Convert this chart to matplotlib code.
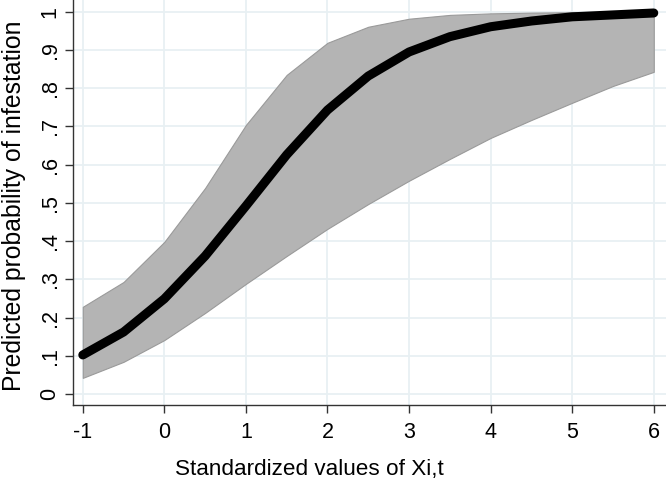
import matplotlib
matplotlib.use("Agg")
import matplotlib.pyplot as plt

x_vals = [-1, -0.5, 0, 0.5, 1, 1.5, 2, 2.5, 3, 3.5, 4, 4.5, 5, 5.5, 6]
prob = [0.102, 0.162, 0.249, 0.361, 0.492, 0.626, 0.743, 0.832, 0.895, 0.935,
        0.961, 0.976, 0.987, 0.992, 0.997]
upper = [0.228, 0.293, 0.398, 0.539, 0.704, 0.835, 0.919, 0.961, 0.982, 0.992,
         0.996, 0.998, 0.999, 0.999, 0.999]
lower = [0.042, 0.084, 0.141, 0.212, 0.288, 0.361, 0.432, 0.497, 0.558, 0.615,
         0.670, 0.717, 0.762, 0.806, 0.843]
x_ticks = [-1, 0, 1, 2, 3, 4, 5, 6]
y_ticks = [0, 0.1, 0.2, 0.3, 0.4, 0.5, 0.6, 0.7, 0.8, 0.9, 1]
y_ticklabels = ["0", ".1", ".2", ".3", ".4", ".5", ".6", ".7", ".8", ".9", "1"]

plt.rcParams['font.family'] = ['Liberation Sans', 'DejaVu Sans']

fig = plt.figure(figsize=(6.66, 4.82), dpi=100)
ax = fig.add_axes([73/666, 77/482, 1 - 73/666, 1 - 77/482])

ax.fill_between(x_vals, lower, upper, facecolor='#b4b4b4', edgecolor='#9a9a9a',
                linewidth=0.8, zorder=2)
ax.plot(x_vals, prob, color='black', linewidth=6.5, solid_capstyle='round',
        solid_joinstyle='round', zorder=3)

ax.set_xlim(-1.12, 6.15)
ax.set_ylim(-0.029, 1.031)
ax.set_xticks(x_ticks)
ax.set_xticklabels([str(t) for t in x_ticks], fontsize=15.5)
ax.set_yticks(y_ticks)
ax.set_yticklabels(y_ticklabels, fontsize=15.5, rotation=90, va='center')
ax.grid(True, color='#e8f0f3', linewidth=1.3, zorder=0)
ax.set_axisbelow(True)

for s in ['top', 'right']:
    ax.spines[s].set_visible(False)
for s in ['left', 'bottom']:
    ax.spines[s].set_color('#333333')
    ax.spines[s].set_linewidth(1.0)
ax.tick_params(direction='out', length=6, width=1, color='#333333')
ax.tick_params(axis='x', pad=6)
ax.tick_params(axis='y', pad=3)

ax.set_xlabel('Standardized values of Xi,t', fontsize=16.2)
ax.set_ylabel('Predicted probability of infestation', fontsize=17.8)
ax.xaxis.label.set_va('center')
ax.yaxis.label.set_va('center')
ax.xaxis.set_label_coords((309 - 73) / 593, (405 - 469) / 405)
ax.yaxis.set_label_coords((14 - 73) / 593, (405 - 206) / 405)

fig.savefig('out.png', dpi=100)
